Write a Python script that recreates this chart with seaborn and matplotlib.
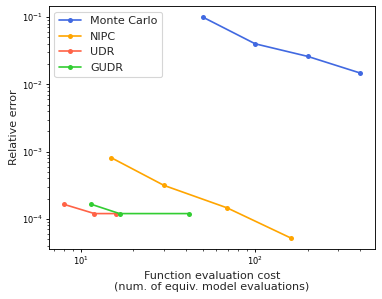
import matplotlib
matplotlib.use("Agg")
import matplotlib.pyplot as plt
import seaborn as sns
import pandas as pd

mc_x = [50, 100, 200, 400]
mc_y = [0.1, 0.04, 0.026, 0.0147]
nipc_x = [15, 30, 69, 160]
nipc_y = [8.1e-4, 3.15e-4, 1.46e-4, 5.2e-5]
udr_x = [8, 12, 16]
udr_y = [1.65e-4, 1.2e-4, 1.2e-4]
gudr_x = [11.5, 16.7, 41.5]
gudr_y = [1.65e-4, 1.2e-4, 1.2e-4]

methods = ["Monte Carlo", "NIPC", "UDR", "GUDR"]
colors = ["#4169e1", "#ffa500", "#ff6347", "#32cd32"]

rows = []
for name, xs, ys in zip(methods, [mc_x, nipc_x, udr_x, gudr_x], [mc_y, nipc_y, udr_y, gudr_y]):
    for x, y in zip(xs, ys):
        rows.append({"method": name, "cost": x, "error": y})
df = pd.DataFrame(rows)

sns.set_style("ticks")
plt.rcParams["axes.edgecolor"] = "black"
plt.rcParams["xtick.color"] = "black"
plt.rcParams["ytick.color"] = "black"
DPI = 80
fig, ax = plt.subplots(figsize=(382 / DPI, 299 / DPI), dpi=DPI)
sns.lineplot(data=df, x="cost", y="error", hue="method", hue_order=methods,
             palette=colors, marker="o", markersize=4.5, markeredgewidth=0,
             estimator=None, sort=False, ax=ax, linewidth=1.5)
ax.set_xscale("log")
ax.set_yscale("log")
ax.set_xlabel("Function evaluation cost\n(num. of equiv. model evaluations)", fontsize=10, labelpad=3)
ax.set_ylabel("Relative error", fontsize=10, labelpad=3)
ax.tick_params(which="major", labelsize=7.5, length=2.8, pad=2.5, width=0.8)
ax.tick_params(which="minor", length=1.6, width=0.6)
for s in ax.spines.values():
    s.set_linewidth(0.8)
leg = ax.legend(loc="upper left", fontsize=10)
fig.subplots_adjust(left=0.128, right=0.982, top=0.98, bottom=0.167)
fig.savefig("out.png", dpi=DPI)
